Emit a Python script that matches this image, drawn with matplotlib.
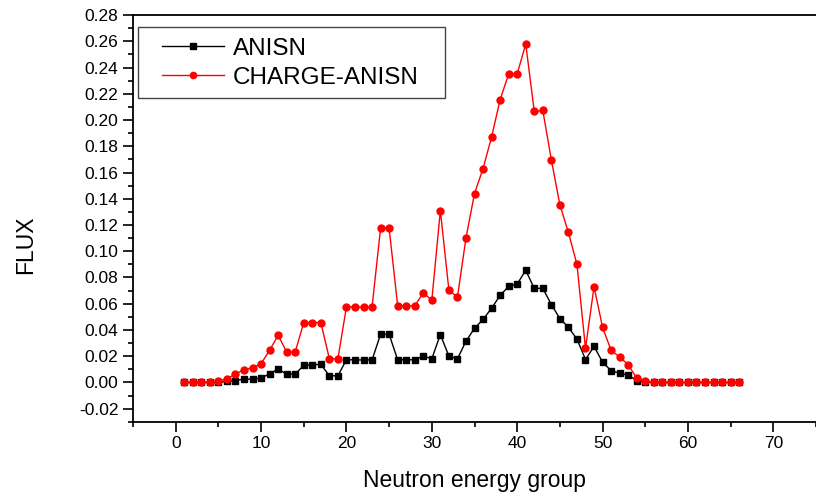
import numpy as np
import matplotlib.pyplot as plt
from matplotlib.patches import Rectangle
from matplotlib.legend_handler import HandlerLine2D
from matplotlib.ticker import MultipleLocator, FormatStrFormatter

plt.rcParams['font.family'] = ['Liberation Sans', 'DejaVu Sans']

# Neutron energy groups 1..66
groups = np.arange(1, 67)

anisn = [0.0, 0.0, 0.0, 0.0, 0.0, 0.0008, 0.0015, 0.0025, 0.0025, 0.0033,
         0.0067, 0.0102, 0.0064, 0.0064, 0.0130, 0.0135, 0.0138, 0.0051, 0.0051, 0.0174,
         0.0172, 0.0172, 0.0172, 0.0367, 0.0367, 0.0173, 0.0173, 0.0173, 0.0201, 0.0181,
         0.0365, 0.0201, 0.0180, 0.0314, 0.0413, 0.0480, 0.0566, 0.0663, 0.0732, 0.0750,
         0.0855, 0.0717, 0.0717, 0.0594, 0.0487, 0.0420, 0.0331, 0.0175, 0.0275, 0.0155,
         0.0090, 0.0070, 0.0056, 0.0015, 0.0003, 0.0, 0.0, 0.0, 0.0, 0.0,
         0.0, 0.0, 0.0, 0.0, 0.0, 0.0]

charge_anisn = [0.0, 0.0, 0.0, 0.0002, 0.0010, 0.0028, 0.0064, 0.0097, 0.0112, 0.0143,
                0.0245, 0.0360, 0.0232, 0.0232, 0.0457, 0.0457, 0.0457, 0.0181, 0.0181, 0.0576,
                0.0576, 0.0576, 0.0576, 0.1176, 0.1176, 0.0584, 0.0584, 0.0584, 0.0683, 0.0627,
                0.1310, 0.0704, 0.0650, 0.1100, 0.1440, 0.1630, 0.1870, 0.2155, 0.2350, 0.2350,
                0.2580, 0.2066, 0.2073, 0.1696, 0.1354, 0.1143, 0.0900, 0.0260, 0.0730, 0.0420,
                0.0245, 0.0194, 0.0135, 0.0033, 0.0010, 0.0, 0.0, 0.0, 0.0, 0.0,
                0.0, 0.0, 0.0, 0.0, 0.0, 0.0]

fig = plt.figure(figsize=(8.16, 5.01), dpi=100)
ax = fig.add_axes([0.163, 0.158, 0.837, 0.812])

ax.plot(groups, anisn, color='black', marker='s', markersize=4.5, linewidth=1.0,
        label='ANISN')
ax.plot(groups, charge_anisn, color='red', marker='o', markersize=5, linewidth=1.0,
        label='CHARGE-ANISN')

ax.set_xlim(-5, 75)
ax.set_ylim(-0.03, 0.28)

ax.xaxis.set_major_locator(MultipleLocator(10))
ax.xaxis.set_minor_locator(MultipleLocator(5))
ax.yaxis.set_major_locator(MultipleLocator(0.02))
ax.yaxis.set_minor_locator(MultipleLocator(0.01))
ax.yaxis.set_major_formatter(FormatStrFormatter('%.2f'))

ax.tick_params(which='major', direction='out', length=7, width=1.2, labelsize=12.5,
               top=False, right=False)
ax.tick_params(which='minor', direction='out', length=3.8, width=1.2,
               top=False, right=False)
for side in ('left', 'bottom', 'top'):
    ax.spines[side].set_linewidth(1.3)
ax.spines['right'].set_visible(False)

ax.set_xlabel('Neutron energy group', fontsize=16.5, labelpad=13)
ax.set_ylabel('FLUX', fontsize=16.5)
ax.yaxis.set_label_coords(-0.14, 0.435)

# legend box drawn as a plain rectangle, legend entries placed inside it
ax.add_patch(Rectangle((0.0073, 0.796), 0.4495, 0.1745, transform=ax.transAxes,
                       facecolor='white', edgecolor='#444444', linewidth=1.0,
                       zorder=4))
handler = {ln: HandlerLine2D(xpad=0.55) for ln in ax.get_lines()}
leg = ax.legend(loc='upper left', bbox_to_anchor=(0.0073, 0.9705), fontsize=17.5,
                frameon=False, borderaxespad=0, handlelength=3.1,
                handletextpad=0.35, labelspacing=0.27, borderpad=0.45,
                markerscale=0.9, handler_map=handler)
leg.set_zorder(5)

fig.savefig('out.png', dpi=100)
